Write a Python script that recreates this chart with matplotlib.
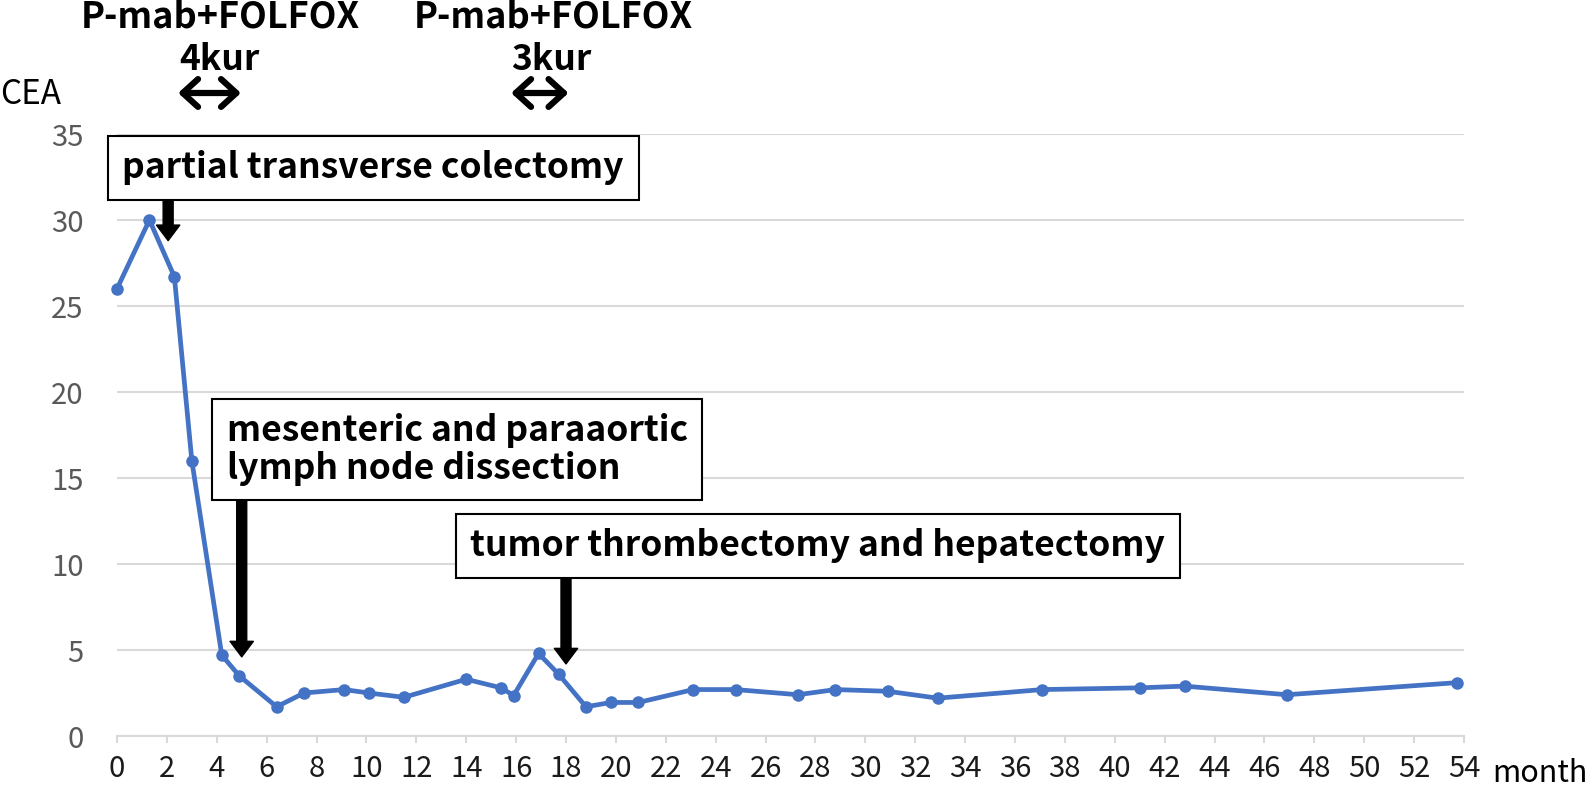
import matplotlib
matplotlib.use("Agg")
import matplotlib.pyplot as plt
import matplotlib.transforms as mtransforms

plt.rcParams["font.family"] = ["Noto Sans CJK JP", "DejaVu Sans"]

# CEA course (month after first visit, CEA value)
months = [0, 1.3, 2.3, 3.0, 4.2, 4.9, 6.4, 7.5, 9.1, 10.1, 11.5, 14.0, 15.4, 15.9,
          16.9, 17.7, 18.8, 19.8, 20.9, 23.1, 24.8, 27.3, 28.8, 30.9, 32.9, 37.1,
          41.0, 42.8, 46.9, 53.7]
cea = [26.0, 30.0, 26.7, 16.0, 4.7, 3.5, 1.7, 2.5, 2.7, 2.5, 2.25, 3.3, 2.8, 2.35,
       4.8, 3.6, 1.7, 1.95, 1.95, 2.7, 2.7, 2.4, 2.7, 2.6, 2.2, 2.7,
       2.8, 2.9, 2.4, 3.1]

x_ticks = list(range(0, 55, 2))
y_ticks = list(range(0, 36, 5))

# surgeries: label, month of arrow, arrow top / tip (CEA units), text anchor
surgery_labels = ["partial transverse colectomy",
                  "mesenteric and paraaortic\nlymph node dissection",
                  "tumor thrombectomy and hepatectomy"]
surgery_month = [2.05, 5.0, 18.0]
arrow_top = [31.3, 13.66, 9.36]
arrow_tip = [28.8, 4.6, 4.19]
label_x = [0.22, 4.39, 14.17]
label_y = [33.05, 16.66, 11.05]

# chemotherapy courses
chemo_label = "P-mab+FOLFOX"
chemo_cycles = ["4kur", "3kur"]
chemo_start = [2.45, 15.8]
chemo_end = [4.97, 18.1]
chemo_label_x = [4.13, 17.5]
cycle_label_x = [4.1, 17.4]

W, H = 1594, 787
fig = plt.figure(figsize=(W / 100, H / 100), dpi=100)
ax = fig.add_axes([117 / W, 51 / H, 1347 / W, 602 / H])

ax.plot(months, cea, color="#4472C4", lw=3.4, marker="o", ms=8,
        solid_joinstyle="round", zorder=3, clip_on=False)

ax.set_xlim(0, 54)
ax.set_ylim(0, 35)
ax.set_xticks(x_ticks)
ax.set_yticks(y_ticks)
ax.grid(axis="y", color="#d9d9d9", lw=1.5)
ax.set_axisbelow(True)
for s in ["top", "right", "left"]:
    ax.spines[s].set_visible(False)
ax.spines["bottom"].set_color("#d9d9d9")
ax.spines["bottom"].set_linewidth(1.5)
ax.tick_params(axis="x", colors="#d9d9d9", length=5, width=1.5, pad=8,
               labelsize=21, labelcolor="#1a1a1a")
ax.tick_params(axis="y", length=0, pad=24, labelsize=21, labelcolor="#595959")

# surgery boxes and arrows
for lab, m, top, tip, tx, ty in zip(surgery_labels, surgery_month, arrow_top,
                                    arrow_tip, label_x, label_y):
    ax.text(tx, ty, lab, fontsize=25.5, fontweight="bold", ha="left", va="center",
            linespacing=1.08, zorder=5,
            bbox=dict(boxstyle="square,pad=0.41", fc="white", ec="black", lw=1.5))
    ax.annotate("", xy=(m, tip), xytext=(m, top), zorder=4,
                arrowprops=dict(arrowstyle="simple,head_length=0.7,head_width=1.05,tail_width=0.45",
                                fc="black", ec="black", mutation_scale=16,
                                shrinkA=0, shrinkB=0))

# chemotherapy annotations above the plot
trans = mtransforms.blended_transform_factory(ax.transData, fig.transFigure)
for i in range(len(chemo_cycles)):
    ax.text(chemo_label_x[i], 1 - 17 / H, chemo_label, transform=trans,
            fontsize=26, fontweight="bold", ha="center", va="center", clip_on=False)
    ax.text(cycle_label_x[i], 1 - 60 / H, chemo_cycles[i], transform=trans,
            fontsize=25.5, fontweight="bold", ha="center", va="center", clip_on=False)
    ax.annotate("", xy=(chemo_end[i], 1 - 93 / H), xytext=(chemo_start[i], 1 - 93 / H),
                xycoords=trans, textcoords=trans,
                arrowprops=dict(arrowstyle="<->,head_length=0.55,head_width=0.5",
                                color="black", lw=4.5, mutation_scale=20,
                                shrinkA=0, shrinkB=0))

fig.text(0.0, 1 - 95 / H, "CEA", fontsize=24, ha="left", va="center")
fig.text(1492 / W, 1 - 773 / H, "month", fontsize=22, ha="left", va="center")

fig.savefig("out.png", dpi=100)
